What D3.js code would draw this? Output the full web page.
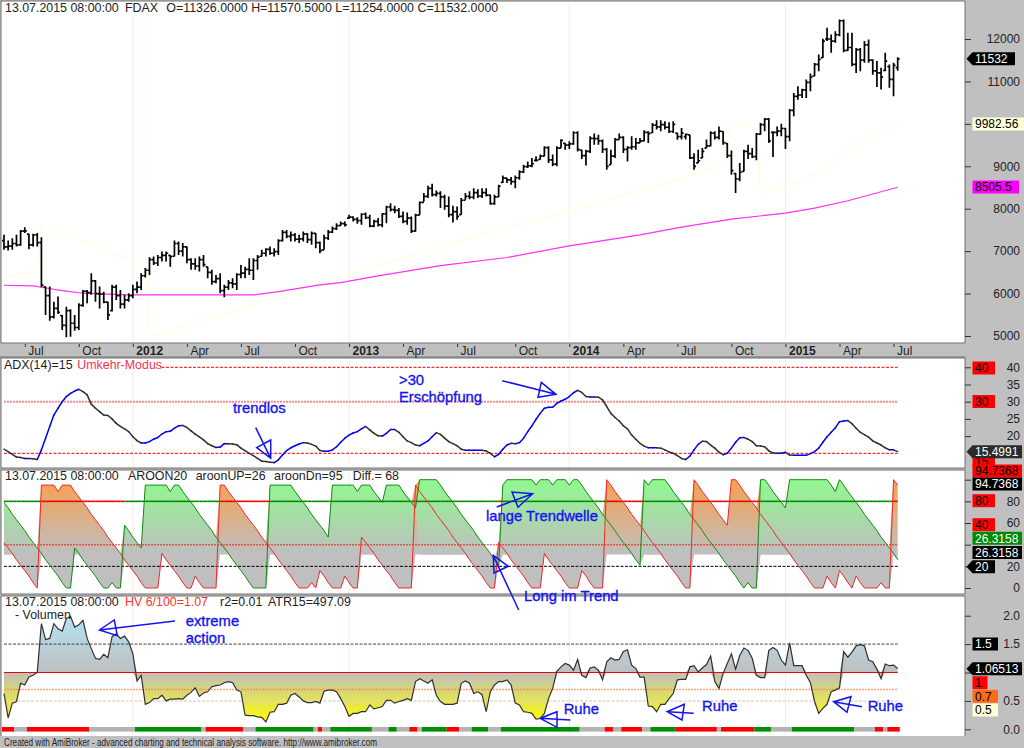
<!DOCTYPE html>
<html>
<head>
<meta charset="utf-8">
<style>
html, body { margin: 0; padding: 0; background: #c0c0c0; }
svg { display: block; }
text { font-family: "Liberation Sans", Arial, sans-serif; font-size: 12px; fill: #222; }
</style>
<script src="https://d3js.org/d3.v7.min.js"></script>
</head>
<body>
<div id="chart"></div>
<script>
// weekly FDAX bars
const barHigh = [
    7385,7250,7305,7385,7500,7565,7410,7410,7425,7330,6165,6165,5810,5930,5495,5690,5630,5495,5770,6085,
    6085,6480,6320,6165,6045,5810,6205,6205,6085,5970,6010,6205,6285,6480,6600,6855,6875,6910,6990,6990,
    6910,7250,7225,7190,7110,6835,6835,6875,6910,6635,6560,6440,6480,6205,6320,6360,6480,6675,6635,6835,
    6835,6910,7030,7070,7110,7070,7280,7500,7500,7465,7425,7385,7465,7425,7465,7425,7225,7385,7500,7580,
    7660,7700,7700,7857,7817,7800,7895,7910,7855,7740,7780,7895,8070,8130,8070,8015,7935,7910,7817,7880,
    8170,8370,8540,8590,8430,8410,8330,8290,8070,8055,8250,8370,8410,8485,8460,8485,8485,8330,8330,8565,
    8780,8725,8745,8780,8905,9035,9115,9195,9235,9275,9470,9470,9275,9470,9640,9550,9590,9825,9825,9390,
    9390,9705,9770,9745,9630,9430,9390,9665,9770,9705,9470,9705,9665,9665,9850,9825,10020,10085,10085,10060,
    10035,10060,9785,9900,9770,9745,9310,9390,9430,9630,9825,9825,9940,9825,9550,9375,8840,9075,9390,9510,
    9430,9785,10020,10140,10140,9825,9940,10005,9900,10350,10730,10885,10825,11045,11185,11435,11635,12005,12265,12105,
    12185,12460,12460,12145,12145,11790,11790,11950,11990,11520,11480,11320,11675,11400,11440,11570.5
]
const barLow = [
    7030,7015,7030,7110,7125,7425,7045,7110,7110,6150,5495,5360,5415,5520,5140,4970,4985,5125,5140,5690,
    5770,5970,5810,5650,5770,5380,5575,5850,5650,5650,5810,5890,6010,6085,6380,6440,6675,6650,6755,6755,
    6635,6875,6910,6875,6715,6560,6560,6520,6635,6360,6205,6245,6010,5915,6085,6125,6085,6360,6360,6440,
    6320,6560,6875,6875,6910,6875,6910,7225,7305,7225,7225,7190,7225,7190,7150,7070,6950,7030,7265,7425,
    7500,7597,7580,7755,7700,7645,7620,7755,7565,7565,7580,7565,7660,7935,7895,7780,7660,7620,7425,7465,
    7855,8170,8250,8290,8290,8015,7975,7800,7675,7740,7855,8210,8225,8225,8250,8250,8290,8095,8095,8275,
    8605,8605,8565,8485,8685,8840,8960,8980,9115,9155,9235,9075,9000,9000,9430,9390,9405,9510,9350,9170,
    9020,9315,9510,9510,9315,8920,9035,9195,9630,9315,9115,9390,9390,9550,9590,9550,9785,9865,9825,9865,
    9785,9785,9625,9630,9630,9170,8920,9075,9195,9430,9470,9630,9630,9510,9195,8800,8370,8645,8880,9170,
    9195,9140,9745,9825,9550,9220,9705,9705,9405,9590,10180,10570,10610,10610,10770,11120,11240,11555,11950,11675,
    11910,12065,11690,11715,11360,11200,11240,11440,11440,11160,10870,10810,11240,10850,10650,11254
]
const barOpen = [
    7250,7100,7120,7180,7150,7470,7400,7150,7380,7200,6160,5950,5450,5650,5480,5250,5600,5300,5200,5720,
    6050,6020,6300,6000,5990,5800,5600,6150,5950,5750,5850,5950,6100,6150,6420,6550,6800,6720,6850,6900,
    6900,6880,7180,7000,7100,6800,6700,6650,6800,6630,6500,6280,6350,6070,6150,6250,6230,6450,6480,6570,
    6550,6780,6880,6950,7040,6950,6990,7250,7440,7350,7380,7280,7290,7400,7270,7420,7200,7030,7310,7450,
    7530,7600,7650,7780,7800,7750,7720,7870,7790,7590,7700,7620,7880,8040,7980,7960,7820,7700,7780,7470,
    7850,8150,8290,8480,8330,8360,8280,8060,7860,7930,7860,8200,8290,8270,8380,8300,8380,8320,8120,8280,
    8620,8720,8680,8640,8730,8870,8990,9010,9140,9160,9240,9440,9150,9050,9430,9540,9500,9530,9790,9380,
    9250,9350,9660,9650,9600,9400,9040,9240,9630,9680,9400,9440,9460,9550,9600,9800,9790,9970,9930,9980,
    9920,9820,9780,9700,9700,9740,9200,9080,9200,9430,9480,9780,9680,9820,9540,9250,8830,8700,8880,9350,
    9300,9230,9760,9980,10110,9800,9800,9830,9890,9700,10320,10650,10680,10800,10980,11130,11400,11560,12000,12000,
    11950,12100,12430,11730,11800,11400,11750,11500,11860,11500,11250,11200,11260,11350,11050,11326
]
const barClose = [
    7100,7120,7180,7150,7470,7480,7150,7380,7200,6200,5950,5450,5650,5560,5250,5600,5300,5200,5720,6050,
    6020,6300,6000,5990,5800,5500,6150,5950,5750,5850,5950,6100,6150,6420,6550,6800,6720,6850,6900,6950,
    6870,7180,7000,7100,6800,6700,6650,6800,6680,6500,6280,6350,6070,6150,6250,6230,6450,6480,6570,6550,
    6780,6860,6950,7040,6950,6990,7250,7440,7350,7380,7280,7290,7400,7270,7420,7200,7010,7310,7450,7530,
    7600,7650,7620,7800,7750,7720,7870,7790,7590,7700,7620,7880,8040,7980,7960,7820,7700,7780,7470,7850,
    8150,8290,8480,8330,8360,8280,8060,7860,7930,7820,8200,8290,8270,8380,8300,8380,8320,8120,8280,8530,
    8720,8680,8640,8730,8870,8990,9010,9060,9140,9240,9440,9150,9050,9430,9610,9500,9530,9790,9400,9250,
    9350,9660,9650,9600,9400,9000,9240,9630,9680,9400,9440,9460,9550,9600,9800,9770,9970,9930,9980,9920,
    9820,9990,9700,9780,9750,9200,9000,9130,9350,9480,9780,9680,9830,9560,9250,8900,8700,8860,9350,9300,
    9230,9760,9980,10110,9600,9800,9830,9890,9700,10320,10650,10680,10800,10980,11100,11400,11520,11950,12000,11950,
    12100,12430,11730,11800,11400,11750,11500,11860,11500,11250,11200,11100,11480,11050,11380,11532
]

// slow average (magenta) and the pale yellow trail, as bar index + value knots
const maBars = [0,7,9,14,19,23,30,53,60,66,76,81,90,105,121,136,153,163,175,188,195,203,215]
const maValues = [6196,6180,6149,6070,6007,5992,5968,5968,5968,6047,6204,6259,6417,6660,6850,7125,7385,7566,7755,7896,8014,8187,8505.5]
const trailBars = [0,8,9,34,35,81,97,113,136,163,174,175,181,182,190,197,203,215]
const trailValues = [6361,6543,7644,6637,4969,6401,6873,7345,7935,8722,9037,10084,9864,8384,8604,8919,9352,9982.56]

const adxValues = [
    16.2,15.5,14.7,13.9,13.8,13.5,13.5,13.4,13.2,16,19.4,22.8,26.1,28.1,30,31.5,32.4,33.1,33.6,32.9,
    32,29.3,28.1,27.1,26.1,26,25,23.7,22.8,22.1,21.3,19.8,18.7,18,18,18.4,19.1,19.6,20.6,21.3,
    21.4,22.3,23,23.1,22.5,21.5,20.6,19.8,18.9,17.8,17.2,16.7,16.8,17.8,17.8,17.7,17.5,16.5,15.8,15,
    14.3,13.5,12.7,12.6,12.4,12.3,13.1,14.5,15.8,16.6,17.2,17.7,18.1,18,17.6,17.1,15.8,15.6,15.6,16,
    16.9,18.2,19.4,20.3,20.9,21.3,22.1,22.8,21.8,20.8,20.1,20,20.8,21.9,21.9,21.1,19.8,18.6,18.1,17.4,
    17.2,17.9,18.6,19.8,21,20.5,19.4,18.4,17.8,17.2,16.2,15.9,15.9,15.9,15.9,15.9,15.7,15,14,14.7,
    16.2,17.4,17.9,17.8,18.1,19.4,21.3,23,24.9,26.6,28.1,28.4,28.4,29.5,30.2,30.7,31.5,32.6,33.3,32.7,
    31.5,31.4,31.4,31.3,30.5,28.6,26.6,25.4,24.4,23,22.1,20.3,19.1,17.9,17.1,16.6,16.6,16.6,16.5,16,
    15.4,15,14.3,13.5,13.2,14.2,16,17.6,18.5,18.4,17.4,16.5,15.3,14.6,15,16.5,18.2,19.5,19.6,19.1,
    18.4,17.2,17.1,16.9,15.7,15.1,15,15,15.3,14.5,14.4,14.4,14.4,14.4,14.9,15.5,16.5,18.2,19.8,21.1,
    22.4,24.2,24.4,24.5,23.6,22.3,21.1,20.4,19.7,18.6,18,17.4,16.6,16,16,15.5
]

const aroonUp = [
    79,74,68,63,58,53,47,42,37,32,26,21,16,11,5,0,0,37,32,26,
    21,16,11,5,0,0,5,0,0,58,53,47,42,37,95,95,95,95,95,95,
    89,95,95,89,84,79,74,68,63,58,53,47,42,37,32,26,21,16,11,5,
    0,0,0,0,95,95,95,95,95,95,89,84,79,74,68,63,58,53,47,95,
    95,95,95,95,95,89,95,95,95,89,84,79,95,95,95,95,89,84,79,74,
    100,100,100,100,100,95,89,84,79,74,68,63,58,53,47,42,37,32,26,21,
    95,100,100,100,100,100,100,100,95,100,100,100,95,100,100,100,95,100,100,95,
    89,84,79,74,68,63,58,53,47,42,37,32,26,21,100,95,100,100,100,100,
    95,89,84,79,74,68,63,58,53,47,42,37,32,26,21,16,11,5,0,5,
    0,0,100,100,95,89,84,79,74,100,100,100,100,100,100,100,100,100,100,95,
    89,100,95,89,84,79,74,68,63,58,53,47,42,37,32,26
]
const aroonDn = [
    42,37,32,26,21,16,11,5,0,95,95,95,95,89,95,95,95,89,84,79,
    74,68,63,58,53,47,42,37,32,26,21,16,11,5,0,0,0,0,32,26,
    21,16,11,5,0,0,11,5,0,0,0,0,95,95,89,84,79,74,68,63,
    58,53,47,42,37,32,26,21,16,11,5,0,0,0,5,0,16,11,5,0,
    0,0,11,5,0,0,47,42,37,32,26,21,16,11,5,0,0,0,0,95,
    89,84,79,74,68,63,58,53,47,42,37,32,26,21,16,11,5,0,0,42,
    37,32,26,21,16,11,5,0,0,0,32,26,21,16,11,5,0,0,0,16,
    11,5,0,0,0,100,95,89,84,79,74,68,63,58,53,47,42,37,32,26,
    21,16,11,5,0,0,100,95,89,84,79,74,68,63,58,100,100,95,89,84,
    79,74,68,63,58,53,47,42,37,32,26,21,16,11,5,0,0,0,11,5,
    0,16,11,5,0,11,5,0,0,0,0,5,0,0,100,95
]

const hvValues = [
    .63,.20,.46,.49,.81,.78,.92,.95,1,1.86,1.58,1.60,1.86,1.77,1.73,1.95,1.99,1.80,1.84,1.92,
    1.60,1.42,1.25,1.23,1.32,1.26,1.63,1.68,1.60,1.64,1.54,1.33,.85,.95,.44,.47,.54,.54,.60,.50,
    .53,.53,.54,.53,.60,.65,.73,.58,.64,.66,.75,.77,.78,.82,.84,.82,.69,.66,.25,.24,
    .24,.22,.21,.13,.30,.31,.44,.44,.46,.60,.63,.57,.50,.47,.47,.49,.46,.67,.69,.69,
    .66,.54,.40,.23,.28,.28,.31,.31,.43,.36,.38,.40,.51,.51,.46,.49,.51,.54,.51,.84,
    .89,.85,.81,.87,.60,.49,.44,.44,.44,.46,.81,.85,.81,.63,.66,.61,.31,.66,.78,.84,
    .84,.87,.78,.46,.43,.31,.30,.28,.18,.19,.28,.54,.72,1.02,1.10,1.16,1.13,1.04,1.23,.95,
    .91,1.08,1.10,1.04,.87,1.19,1.26,1.22,1.23,1.37,1.40,1.13,1.07,.92,.92,.41,.40,.31,.44,.44,
    .54,.63,.87,.88,.88,1.10,1.12,1.01,1.08,1.14,1.29,.84,.72,.98,1.16,1.33,1.06,1.30,1.43,1.39,
    1.25,.95,.91,.91,1.39,1.44,1.39,1.22,1.13,1.52,1.12,1.12,1.12,.95,.82,.49,.28,.37,.44,.66,
    .69,.73,1.37,1.27,1.36,1.47,1.49,1.47,1.22,1.19,1.06,.89,1.15,1.12,1.13,1.07
]

// state strip under the HV panel: state + how many bars it lasts
const stripStates = ['r','n','r','n','g','n','r','n','g','n','r','n','g','n','g','n','r','n','g','r','n','g','n','g','n','r','n','r','n','g','r','n','r','g','n','g','n','r','n','r']
const stripLengths = [3,3,15,11,16,1,9,3,14,1,1,2,10,4,2,3,2,1,6,3,3,4,3,19,6,2,2,5,2,6,10,1,8,4,5,15,5,2,1,3]

const tickBars = [5,18,31,44,57,70,83,96,109,123,136,149,162,175,188,201,214]
const tickLabels = ['Jul','Oct','2012','Apr','Jul','Oct','2013','Apr','Jul','Oct','2014','Apr','Jul','Oct','2015','Apr','Jul']
const yearBars = [31,83,136,188]

const priceTicks = [5000,6000,7000,8000,9000,10000,11000,12000]
const adxTicks = [20,25,30,35,40]
const aroonTicks = [0,20,40,60,80,100]
const hvTicks = [0,0.5,1,1.5,2]
// these tick labels sit under a value tag, so they stay empty
const coveredTicks = [10000,100,1]

const width = 1024
const height = 748
const plotLeft = 1
const plotRight = 965
const panelTops = [1,358,470,596]
const panelBottoms = [343,468,594,736]

const barCount = barHigh.length
const bars = d3.range(barCount)

const svg = d3
    .select('#chart')
    .append('svg')
    .attr('width', width)
    .attr('height', height)

const x = d3.scaleLinear().domain([0, barCount - 1]).range([4, 897.7])
const yPrice = d3.scaleLinear().domain([5000, 12000]).range([336, 39])
const yAdx = d3.scaleLinear().domain([15, 40]).range([453.3, 367.3])
const yAroon = d3.scaleLinear().domain([0, 100]).range([588, 479.7])
const yHv = d3.scaleLinear().domain([0, 2]).range([729.3, 615.7])

const defs = svg.append('defs')

function gradient(id, y1, y2, from, to) {
    const g = defs
        .append('linearGradient')
        .attr('id', id)
        .attr('gradientUnits', 'userSpaceOnUse')
        .attr('x1', 0)
        .attr('x2', 0)
        .attr('y1', y1)
        .attr('y2', y2)
    g.append('stop').attr('offset', 0).attr('stop-color', from)
    g.append('stop').attr('offset', 1).attr('stop-color', to)
}
const aroonBase = 31
gradient('aroonGreen', yAroon(100), yAroon(aroonBase), '#90f890', '#bfbfbf')
gradient('aroonOrange', yAroon(100), yAroon(aroonBase), '#f8a050', '#bfbfbf')
gradient('hvUp', yHv(2), yHv(1), '#b4e2f6', '#bfbfbf')
gradient('hvDown', yHv(1), yHv(0.12), '#bfbfbf', '#ffff00')

// panels
svg.append('g')
    .selectAll('rect')
    .data(panelTops)
    .join('rect')
    .attr('x', plotLeft)
    .attr('y', (d) => d)
    .attr('width', plotRight - plotLeft)
    .attr('height', (d, i) => panelBottoms[i] - d)
    .attr('fill', '#fff')
    .attr('stroke', (d, i) => (i < 3 ? '#707070' : 'none'))
    .attr('stroke-width', 1)

svg.append('path')
    .attr('d', `M${plotLeft},736V596H${plotRight}V736`)
    .attr('fill', 'none')
    .attr('stroke', '#707070')
    .attr('stroke-width', 1)

svg.append('line')
    .attr('x1', 0)
    .attr('x2', plotRight)
    .attr('y1', 357)
    .attr('y2', 357)
    .attr('stroke', '#707070')
    .attr('stroke-width', 1)

// year separators run through all four panels
panelTops.forEach((top, p) => {
    svg.append('g')
        .selectAll('line')
        .data(yearBars)
        .join('line')
        .attr('x1', (d) => x(d))
        .attr('x2', (d) => x(d))
        .attr('y1', top + 1)
        .attr('y2', panelBottoms[p] - 1)
        .attr('stroke', '#ffe6e6')
})

// price panel
const priceLine = (barsList, valuesList) =>
    d3
        .line()
        .x((d) => x(barsList[d]))
        .y((d) => yPrice(valuesList[d]))(d3.range(barsList.length))

svg.append('path')
    .attr('d', priceLine(trailBars, trailValues))
    .attr('fill', 'none')
    .attr('stroke', '#fdfdd8')

svg.append('path')
    .attr('d', priceLine(maBars, maValues))
    .attr('fill', 'none')
    .attr('stroke', '#ff30f0')
    .attr('stroke-width', 1.2)

svg.append('g')
    .selectAll('path')
    .data(bars)
    .join('path')
    .attr('d', (i) => {
        const cx = x(i)
        return (
            `M${cx},${yPrice(barHigh[i])}V${yPrice(barLow[i])}` +
            `M${cx - 2},${yPrice(barOpen[i])}H${cx}` +
            `M${cx},${yPrice(barClose[i])}H${cx + 2}`
        )
    })
    .attr('fill', 'none')
    .attr('stroke', '#000')
    .attr('stroke-width', 1.7)

// x axis strip
const xAxis = svg
    .append('g')
    .attr('transform', 'translate(0,344)')
    .call(
        d3
            .axisBottom(x)
            .tickValues(tickBars)
            .tickSize(3)
            .tickFormat((d) => tickLabels[tickBars.indexOf(d)])
    )
xAxis.select('.domain').remove()
xAxis.selectAll('.tick line').attr('stroke', '#333')
xAxis
    .selectAll('.tick text')
    .attr('text-anchor', 'start')
    .attr('x', 3)
    .attr('y', 0)
    .attr('dy', '10.5px')
    .style('font-weight', (d, i) => (/^20/.test(tickLabels[i]) ? 'bold' : 'normal'))

// level lines
function level(yScale, value, color, lineWidth, dash, opacity) {
    svg.append('line')
        .attr('x1', x(0))
        .attr('x2', x(barCount - 1))
        .attr('y1', yScale(value))
        .attr('y2', yScale(value))
        .attr('stroke', color)
        .attr('stroke-width', lineWidth)
        .attr('stroke-dasharray', dash)
        .attr('stroke-opacity', opacity || 1)
}

// adx panel
level(yAdx, 40, '#f00000', 1, '3,1.5')
level(yAdx, 30, '#f00000', 2, '2,1', 0.45)
level(yAdx, 15, '#f00000', 1, '3,1.5')

const adxRises = (i) => adxValues[i + 1] >= adxValues[i]
svg.append('g')
    .selectAll('line')
    .data(d3.range(barCount - 1))
    .join('line')
    .attr('x1', (i) => x(i))
    .attr('x2', (i) => x(i + 1))
    .attr('y1', (i) => yAdx(adxValues[i]))
    .attr('y2', (i) => yAdx(adxValues[i + 1]))
    .attr('stroke', (i) => (adxRises(i) ? '#0000f0' : '#303030'))
    .attr('stroke-width', 1.5)
    .attr('stroke-linecap', 'round')

// aroon panel: shaded between the two lines, down to the base level at least
const aroonFloor = (i) => Math.min(aroonUp[i], aroonDn[i], aroonBase)

svg.append('path')
    .attr(
        'd',
        d3
            .area()
            .x((i) => x(i))
            .y0((i) => yAroon(aroonFloor(i)))
            .y1((i) => yAroon(Math.max(aroonUp[i], aroonDn[i])))(bars)
    )
    .attr('fill', 'url(#aroonOrange)')

svg.append('path')
    .attr(
        'd',
        d3
            .area()
            .x((i) => x(i))
            .y0((i) => yAroon(aroonUp[i] > aroonDn[i] ? aroonFloor(i) : aroonUp[i]))
            .y1((i) => yAroon(aroonUp[i]))(bars)
    )
    .attr('fill', 'url(#aroonGreen)')

level(yAroon, 40, '#f00000', 1.5, '2,1', 0.55)
level(yAroon, 20, '#000', 1, '3,1.5')

svg.append('g')
    .selectAll('line')
    .data(d3.range(barCount - 1))
    .join('line')
    .attr('x1', (i) => x(i))
    .attr('x2', (i) => x(i + 1))
    .attr('y1', yAroon(80))
    .attr('y2', yAroon(80))
    .attr('stroke', (i) => (aroonUp[i] >= aroonDn[i] ? '#008a00' : '#f00000'))
    .attr('stroke-width', 1.6)

const aroonPath = (values) =>
    d3
        .line()
        .x((i) => x(i))
        .y((i) => yAroon(values[i]))(bars)

svg.append('path')
    .attr('d', aroonPath(aroonUp))
    .attr('fill', 'none')
    .attr('stroke', '#108c10')
    .attr('stroke-width', 1)

svg.append('path')
    .attr('d', aroonPath(aroonDn))
    .attr('fill', 'none')
    .attr('stroke', '#f02828')
    .attr('stroke-width', 1)

// hv panel
svg.append('path')
    .attr(
        'd',
        d3
            .area()
            .x((i) => x(i))
            .y0(yHv(1))
            .y1((i) => yHv(Math.max(hvValues[i], 1)))(bars)
    )
    .attr('fill', 'url(#hvUp)')

svg.append('path')
    .attr(
        'd',
        d3
            .area()
            .x((i) => x(i))
            .y0(yHv(1))
            .y1((i) => yHv(Math.min(hvValues[i], 1)))(bars)
    )
    .attr('fill', 'url(#hvDown)')

level(yHv, 1.5, '#444', 1, '3,1.5')
level(yHv, 1, '#f00000', 1.2)
level(yHv, 0.7, '#ff8040', 1.5, '2,1', 0.7)
level(yHv, 0.5, '#dcdcc0', 1.5, '3,1.5')

svg.append('path')
    .attr(
        'd',
        d3
            .line()
            .x((i) => x(i))
            .y((i) => yHv(hvValues[i]))(bars)
    )
    .attr('fill', 'none')
    .attr('stroke', '#303030')
    .attr('stroke-width', 1.2)

// state strip
const stripColors = { r: '#ff0000', g: '#008f00', n: '#b4b4b4' }
let stripStart = 0
const stripRuns = stripStates.map((state, k) => {
    const run = { state: state, start: stripStart, len: stripLengths[k] }
    stripStart += stripLengths[k]
    return run
})
const barStep = x(1) - x(0)
svg.append('g')
    .selectAll('rect')
    .data(stripRuns)
    .join('rect')
    .attr('x', (d) => x(d.start) - barStep / 2)
    .attr('y', 727)
    .attr('width', (d) => d.len * barStep)
    .attr('height', 4.6)
    .attr('fill', (d) => stripColors[d.state])

// right axes
function rightAxis(yScale, values, format, covered) {
    const g = svg
        .append('g')
        .attr('transform', `translate(${plotRight},0)`)
        .call(
            d3
                .axisRight(yScale)
                .tickValues(values)
                .tickSize(6)
                .tickFormat((d) => (covered.includes(d) ? '' : format(d)))
        )
    g.select('.domain').remove()
    g.selectAll('.tick line').attr('stroke', '#333')
    g.selectAll('.tick text').attr('x', 55).attr('text-anchor', 'end').attr('fill', '#222')
}
rightAxis(yPrice, priceTicks, (d) => d, coveredTicks)
rightAxis(yAdx, adxTicks, (d) => d, coveredTicks)
rightAxis(yAroon, aroonTicks, (d) => d, coveredTicks.concat(40))
rightAxis(yHv, hvTicks, d3.format('.1f'), coveredTicks)

// value tags on the right, later ones cover earlier ones
function tag(cy, x2, fill, color, label, pointer) {
    const d = pointer
        ? `M966.5,${cy}L972.5,${cy - 6.5}H${x2}V${cy + 6.5}H972.5Z`
        : `M972.5,${cy - 6.5}H${x2}V${cy + 6.5}H972.5Z`
    svg.append('path').attr('d', d).attr('fill', fill)
    svg.append('text')
        .attr('x', 975)
        .attr('y', cy + 4.3)
        .style('fill', color)
        .text(label)
}
tag(yPrice(11532), 1015, '#000', '#fff', '11532', true)
tag(124, 1024, '#ffffd8', '#000', '9982.56')
tag(187, 1019, '#ff00ff', '#000', '8505.5')
tag(368, 995, '#ff0000', '#000', '40')
tag(401.5, 995, '#ff0000', '#000', '30')
tag(462, 995, '#ff0000', '#000', '15')
tag(451.7, 1022, '#2b2b2b', '#fff', '15.4991', true)
tag(471, 1022, '#ff0000', '#000', '94.7368')
tag(484, 1022, '#000', '#fff', '94.7368')
tag(500.7, 995, '#ff0000', '#000', '80')
tag(524.7, 995, '#ff0000', '#000', '40')
tag(538.3, 1022, '#008a00', '#fff', '26.3158')
tag(552.5, 1022, '#000', '#fff', '26.3158')
tag(566.8, 995, '#000', '#fff', '20', true)
tag(644, 998, '#000', '#fff', '1.5')
tag(668.8, 1022, '#000', '#fff', '1.06513', true)
tag(682.7, 987.5, '#ff0000', '#000', '1')
tag(696.3, 998, '#ff6a1a', '#000', '0.7')
tag(710, 998, '#ffffd8', '#000', '0.5')

// panel titles
function label(xPos, yPos, str, color) {
    return svg
        .append('text')
        .attr('x', xPos)
        .attr('y', yPos)
        .style('fill', color || '#222')
        .style('font-size', '12.4px')
        .text(str)
}
label(5, 11.7, '13.07.2015 08:00:00')
label(125, 11.7, 'FDAX')
label(166.3, 11.7, 'O=11326.0000 H=11570.5000 L=11254.0000 C=11532.0000')

svg.append('rect').attr('x', 3).attr('y', 359).attr('width', 157).attr('height', 13).attr('fill', '#fff')
label(4, 369.3, 'ADX(14)=15')
label(77.3, 369.3, 'Umkehr-Modus', '#ff3050')

label(5, 480.3, '13.07.2015 08:00:00')
label(128, 480.3, 'AROON20')
label(195.7, 480.3, 'aroonUP=26')
label(274, 480.3, 'aroonDn=95')
label(352.7, 480.3, 'Diff.= 68')

label(5, 606, '13.07.2015 08:00:00')
label(125, 606, 'HV 6/100=1.07', '#ff3030')
label(220, 606, 'r2=0.01')
label(268, 606, 'ATR15=497.09')
label(15, 619, '- Volumen')

// hand drawn notes
const noteBlue = '#1414f0'
const notes = [
    { str: 'trendlos', x: 233, y: 413 },
    { str: '>30', x: 399, y: 385 },
    { str: 'Erschöpfung', x: 399, y: 401.7 },
    { str: 'lange Trendwelle', x: 486, y: 520.7 },
    { str: 'Long im Trend', x: 524, y: 601 },
    { str: 'extreme', x: 185.7, y: 625.7 },
    { str: 'action', x: 185.7, y: 642.7 },
    { str: 'Ruhe', x: 563.7, y: 714 },
    { str: 'Ruhe', x: 702, y: 711 },
    { str: 'Ruhe', x: 867.7, y: 711 },
]
svg.append('g')
    .selectAll('text')
    .data(notes)
    .join('text')
    .attr('x', (d) => d.x)
    .attr('y', (d) => d.y)
    .style('fill', noteBlue)
    .style('stroke', noteBlue)
    .style('stroke-width', 0.35)
    .style('font-size', '14.8px')
    .text((d) => d.str)

const arrows = [
    'M255.7,427.7L270.7,458.3M270.7,440L256.7,447.7L270.7,458.3Z',
    'M502.3,380.7L556,394.3M541.3,382.3L556,394.3L538,397.3Z',
    'M496.7,507L532.7,493.7M532.7,493.7L512,492L518,507.3Z',
    'M518.7,610L493.5,556M493.3,555.3L508.3,566.3L494,573Z',
    'M175,621L99.3,630M99.3,630L114.3,620L117.3,635.7Z',
    'M570.3,720L540.3,718.3M540.3,718.3L557,711.7L557,727.3Z',
    'M693.7,713.3L667,711.7M667,711.7L684.3,704.3L682,720Z',
    'M862,706.7L833.7,701.7M833.7,701.7L851,696.7L847,712.3Z',
]
svg.append('g')
    .selectAll('path')
    .data(arrows)
    .join('path')
    .attr('d', (d) => d)
    .attr('fill', 'none')
    .attr('stroke', noteBlue)
    .attr('stroke-width', 1.5)

// status line at the bottom
svg.append('text')
    .attr('x', 4)
    .attr('y', 746)
    .attr('textLength', 373)
    .attr('lengthAdjust', 'spacingAndGlyphs')
    .style('font-size', '10px')
    .text('Created with AmiBroker - advanced charting and technical analysis software. http://www.amibroker.com')
</script>
</body>
</html>
